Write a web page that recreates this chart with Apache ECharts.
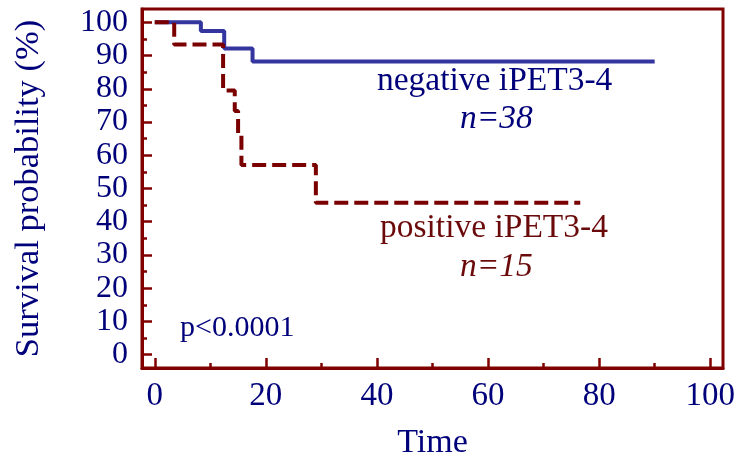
<!DOCTYPE html>
<html>
<head>
<meta charset="utf-8">
<script src="https://cdn.jsdelivr.net/npm/echarts@6/dist/echarts.min.js"></script>
<style>
  html, body { margin: 0; padding: 0; background: #fff; }
</style>
</head>
<body>
<div id="chart" style="width: 738px; height: 462px;"></div>
<script>
// Kaplan-Meier curves (time, survival %)
const negTime = [0, 8.3, 12.5, 17.6, 90];
const negSurv = [100, 97.4, 92.1, 88.2, 88.2];
const posTime = [0, 3.5, 12.3, 14.4, 15.0, 15.6, 29.0, 76.6];
const posSurv = [100, 93.3, 79.5, 73.3, 66.7, 57.1, 45.7, 45.7];

const xMajor = [0, 20, 40, 60, 80, 100];
const xMinor = [10, 30, 50, 70, 90];
const yMajor = [0, 10, 20, 30, 40, 50, 60, 70, 80, 90, 100];
const yMinor = [5, 15, 25, 35, 45, 55, 65, 75, 85, 95];

const axisRed = '#800000';
const navy = '#00007a';
const serif = 'Liberation Serif';

let myChart = echarts.init(document.getElementById('chart'));

function xAxisOf(ticks, len, labels) {
  return {
    type: 'value', min: -2.3, max: 102.3, position: 'bottom',
    axisLine: { show: labels, onZero: false, lineStyle: { color: axisRed, width: 3 } },
    axisTick: { show: true, inside: true, length: len, customValues: ticks, lineStyle: { color: axisRed, width: 2.5 } },
    axisLabel: { show: labels, customValues: ticks, margin: 12, color: navy, fontFamily: serif, fontSize: 33 },
    splitLine: { show: false },
    name: labels ? 'Time' : '', nameLocation: 'middle', nameGap: 58,
    nameTextStyle: { color: navy, fontFamily: serif, fontSize: 34 }
  };
}
function yAxisOf(ticks, len, labels) {
  return {
    type: 'value', min: -4, max: 104, position: 'left',
    axisLine: { show: labels, onZero: false, lineStyle: { color: axisRed, width: 3 } },
    axisTick: { show: true, inside: true, length: len, customValues: ticks, lineStyle: { color: axisRed, width: 2.5 } },
    axisLabel: { show: labels, customValues: ticks, margin: 14, color: navy, fontFamily: serif, fontSize: 32 },
    splitLine: { show: false },
    name: labels ? 'Survival probability (%)' : '', nameLocation: 'middle', nameGap: 96,
    nameTextStyle: { color: navy, fontFamily: serif, fontSize: 34.5 }
  };
}

myChart.setOption({
  animation: false,
  grid: {
    left: 142, right: 15, top: 9, bottom: 94,
    outerBoundsMode: 'none', containLabel: false,
    show: true, borderColor: axisRed, borderWidth: 3, backgroundColor: 'transparent'
  },
  xAxis: [xAxisOf(xMajor, 10, true), xAxisOf(xMinor, 5, false)],
  yAxis: [yAxisOf(yMajor, 10, true), yAxisOf(yMinor, 5, false)],
  series: [
    {
      name: 'negative iPET3-4', type: 'line', step: 'end', symbol: 'none',
      data: negTime.map((t, i) => [t, negSurv[i]]),
      lineStyle: { color: '#3535a0', width: 4 }, z: 3
    },
    {
      name: 'positive iPET3-4', type: 'line', step: 'end', symbol: 'none',
      data: posTime.map((t, i) => [t, posSurv[i]]),
      lineStyle: { color: '#7a0000', width: 4, type: [14, 6] }, z: 4
    }
  ],
  graphic: [
    { type: 'text', left: 377, top: 64, style: { text: 'negative iPET3-4', fill: navy, font: '33.5px "Liberation Serif"' } },
    { type: 'text', left: 460, top: 102, style: { text: 'n=38', fill: navy, font: 'italic 33.5px "Liberation Serif"' } },
    { type: 'text', left: 380, top: 211, style: { text: 'positive iPET3-4', fill: '#6b0a0a', font: '33.5px "Liberation Serif"' } },
    { type: 'text', left: 460, top: 250, style: { text: 'n=15', fill: '#6b0a0a', font: 'italic 33.5px "Liberation Serif"' } },
    { type: 'text', left: 180, top: 313, style: { text: 'p<0.0001', fill: navy, font: '30px "Liberation Serif"' } }
  ]
});
window.onresize = function () {
  myChart.resize();
};
</script>
</body>
</html>
